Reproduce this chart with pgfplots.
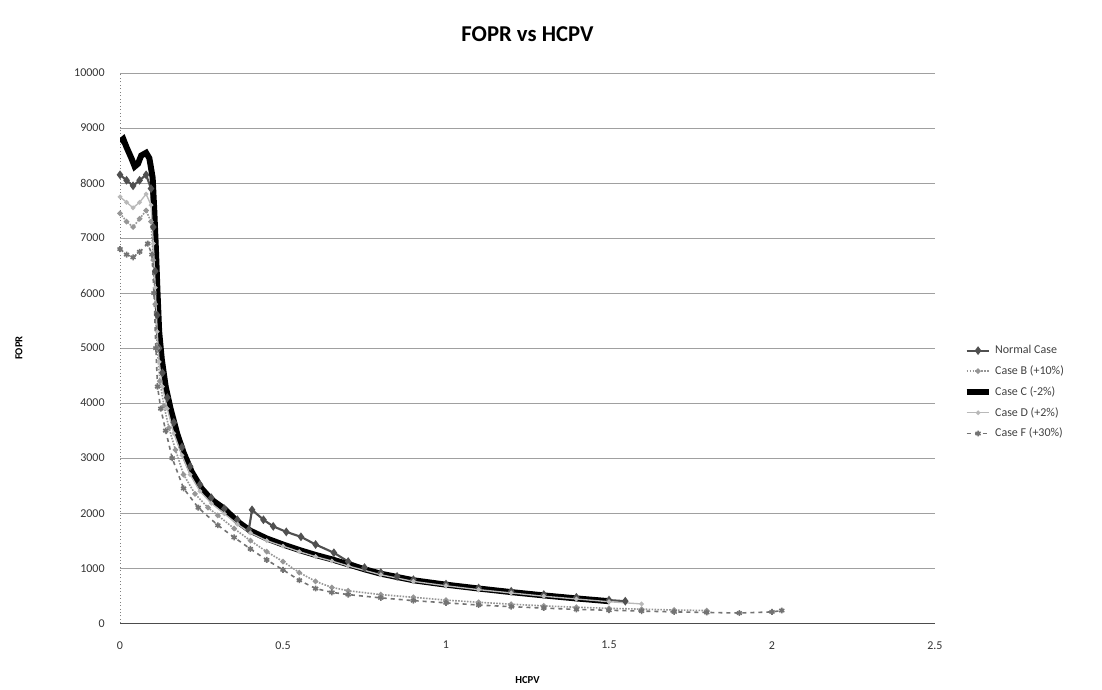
\documentclass[border=0pt]{standalone}
\usepackage{fontspec}
\setmainfont{Carlito}
\usepackage{pgfplots}
\pgfplotsset{compat=1.18}

\definecolor{gridgray}{RGB}{160,160,160}
\definecolor{normalgray}{RGB}{80,80,80}
\definecolor{bgray}{RGB}{150,150,150}
\definecolor{dgray}{RGB}{185,185,185}
\definecolor{fgray}{RGB}{115,115,115}

\begin{document}
\begin{tikzpicture}
\begin{axis}[
    scale only axis,
    width=611pt, height=412.5pt,
    xmin=0, xmax=2.5, ymin=0, ymax=10000,
    xtick={0,0.5,1,1.5,2,2.5},
    ytick={0,1000,...,10000},
    scaled ticks=false,
    /pgf/number format/assume math mode=true,
    /pgf/number format/1000 sep={},
    ticklabel style={font=\fontsize{9}{10}\selectfont, text=black!80},
    xticklabel style={yshift=-10pt},
    yticklabel style={xshift=-8pt},
    major tick length=0pt,
    axis line style={draw=none},
    ymajorgrids, xmajorgrids=false,
    grid style={gridgray, line width=0.6pt},
    title={\bfseries FOPR vs HCPV},
    title style={font=\fontsize{17}{20}\selectfont, yshift=14pt},
    xlabel={\bfseries HCPV},
    ylabel={\bfseries FOPR},
    label style={font=\fontsize{8}{9}\selectfont},
    xlabel style={yshift=-14pt},
    ylabel style={yshift=32pt},
    legend style={draw=none, fill=none, at={(1.03,0.515)}, anchor=north west,
        font=\fontsize{9}{10}\selectfont, row sep=3.5pt, text=black!75},
    legend cell align=left,
    clip=true,
]
\coordinate (O) at (rel axis cs:0,0);
\coordinate (T) at (rel axis cs:1,1);
\draw[dotted, gray, line width=0.6pt] (rel axis cs:0,0) -- (rel axis cs:0,1);
\draw[black!70, line width=0.8pt] (rel axis cs:0,0) -- (rel axis cs:1,0);

% Normal Case
\addplot[normalgray, line width=1.6pt, mark=diamond*, mark size=2pt] coordinates {
(0.000,8150) (0.020,8050) (0.040,7950) (0.060,8050) (0.080,8150) (0.095,7900)
(0.102,7200) (0.108,6400) (0.114,5600) (0.120,5000) (0.130,4550) (0.145,4100)
(0.165,3650) (0.190,3200) (0.215,2850) (0.245,2520) (0.280,2280) (0.320,2080)
(0.360,1880) (0.395,1700) (0.405,2060) (0.440,1880) (0.470,1760) (0.510,1660)
(0.555,1570) (0.600,1430) (0.656,1280) (0.700,1120) (0.750,1010) (0.800,920)
(0.850,850) (0.900,790) (1.000,710) (1.100,640) (1.200,580) (1.300,520)
(1.400,470) (1.500,420) (1.550,400)
};
% Case B (+10%)
\addplot[bgray, line width=1.2pt, densely dotted, mark=*, mark size=1.4pt, mark options={solid}] coordinates {
(0.000,7450) (0.020,7300) (0.040,7200) (0.060,7350) (0.080,7500) (0.095,7300)
(0.102,6600) (0.108,5800) (0.114,5000) (0.122,4400) (0.135,3950) (0.150,3550)
(0.170,3150) (0.195,2700) (0.230,2350) (0.270,2100) (0.300,1960) (0.350,1720)
(0.400,1500) (0.450,1300) (0.500,1120) (0.550,920) (0.600,760) (0.650,650)
(0.700,590) (0.800,520) (0.900,470) (1.000,420) (1.100,380) (1.200,345)
(1.300,315) (1.400,290) (1.500,270) (1.600,255) (1.700,240) (1.800,230)
};
% Case C (-2%)
\addplot[black, line width=4.5pt] coordinates {
(0.000,8750) (0.010,8800) (0.020,8650) (0.035,8450) (0.045,8300) (0.055,8350)
(0.065,8500) (0.080,8550) (0.090,8450) (0.100,8100) (0.105,7500) (0.110,6800)
(0.115,6000) (0.120,5300) (0.128,4800) (0.140,4300) (0.155,3900) (0.175,3450)
(0.195,3100) (0.220,2750) (0.250,2450) (0.280,2250) (0.320,2080) (0.360,1850)
(0.400,1680) (0.450,1540) (0.500,1430) (0.550,1330) (0.600,1240) (0.650,1160)
(0.700,1070) (0.750,980) (0.800,900) (0.850,840) (0.900,780) (1.000,700)
(1.100,630) (1.200,565) (1.300,505) (1.400,450) (1.500,400)
};
% Case D (+2%)
\addplot[dgray, line width=1pt, mark=*, mark size=1.2pt] coordinates {
(0.000,7750) (0.020,7650) (0.040,7550) (0.060,7650) (0.080,7800) (0.095,7600)
(0.102,6900) (0.108,6100) (0.114,5300) (0.120,4750) (0.130,4300) (0.145,3900)
(0.165,3450) (0.190,3050) (0.215,2700) (0.245,2400) (0.280,2180) (0.320,1990)
(0.360,1800) (0.400,1640) (0.450,1500) (0.500,1400) (0.550,1300) (0.600,1210)
(0.650,1130) (0.700,1040) (0.800,880) (0.900,760) (1.000,680) (1.100,610)
(1.200,550) (1.300,490) (1.400,440) (1.500,390) (1.600,350)
};
% Case F (+30%)
\addplot[fgray, line width=1.2pt, dashed, mark=asterisk, mark size=2.2pt, mark options={solid}] coordinates {
(0.000,6800) (0.020,6700) (0.040,6650) (0.060,6750) (0.085,6900) (0.098,6700)
(0.104,6000) (0.110,5000) (0.115,4300) (0.125,3900) (0.140,3500) (0.160,3000)
(0.195,2450) (0.240,2100) (0.300,1780) (0.350,1560) (0.400,1350) (0.450,1150)
(0.500,970) (0.550,780) (0.600,630) (0.650,560) (0.700,520) (0.800,460)
(0.900,410) (1.000,370) (1.100,330) (1.200,300) (1.300,275) (1.400,250)
(1.500,235) (1.600,220) (1.700,205) (1.800,195) (1.900,185) (2.000,205)
(2.030,230)
};
\legend{Normal Case, Case B (+10\%), Case C (-2\%), Case D (+2\%), Case F (+30\%)}
\end{axis}
\pgfresetboundingbox
\path[use as bounding box] ([xshift=-90pt,yshift=-49.5pt]O) rectangle ([xshift=125.25pt,yshift=54.75pt]T);
\end{tikzpicture}
\end{document}
